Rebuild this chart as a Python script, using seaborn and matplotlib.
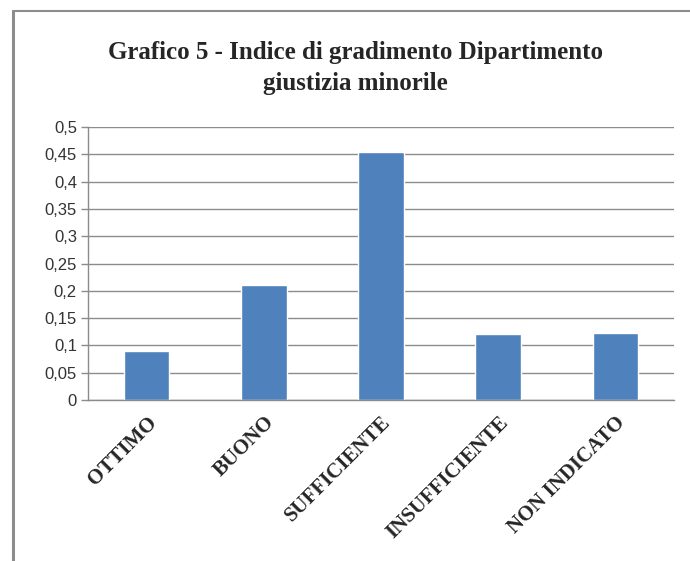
import matplotlib
matplotlib.use('Agg')
import matplotlib.pyplot as plt
import seaborn as sns
from matplotlib.lines import Line2D

# dati
CATEGORIES = ["OTTIMO", "BUONO", "SUFFICIENTE", "INSUFFICIENTE", "NON INDICATO"]
VALUES = [0.09, 0.211, 0.455, 0.12, 0.123]
Y_TICKS = [0, 0.05, 0.1, 0.15, 0.2, 0.25, 0.3, 0.35, 0.4, 0.45, 0.5]
TITLE = "Grafico 5 - Indice di gradimento Dipartimento\ngiustizia minorile"

sns.set_style("white")
plt.rcParams['font.family'] = ['Liberation Serif', 'DejaVu Serif']

fig = plt.figure(figsize=(6.9, 5.61), dpi=100)
ax = fig.add_axes([88 / 690, 1 - 400 / 561, (674 - 88) / 690, (400 - 127) / 561])

sns.barplot(x=CATEGORIES, y=VALUES, color="#4F81BD", saturation=1, width=0.39, ax=ax)

ax.set_ylim(0, 0.5)
ax.set_xlim(-0.5, len(CATEGORIES) - 0.5)
ax.set_yticks(Y_TICKS)
ax.set_yticklabels([("%g" % t).replace('.', ',') for t in Y_TICKS],
                   fontfamily='Liberation Sans', fontsize=12, color='#333333')
ax.yaxis.grid(True, color='#8c8c8c', linewidth=1)
ax.set_axisbelow(True)

# tacche tra le categorie come in Excel
ax.set_xticks([i - 0.5 for i in range(len(CATEGORIES) + 1)], minor=True)
ax.set_xticks(range(len(CATEGORIES)))
ax.set_xticklabels(CATEGORIES, rotation=45, ha='right', rotation_mode='anchor',
                   fontweight='bold', fontsize=15)
ax.tick_params(axis='x', which='major', length=0, pad=9)
ax.tick_params(axis='x', which='minor', length=5, color='#8c8c8c', width=1)
ax.tick_params(axis='y', length=5, color='#8c8c8c', width=1, left=True, pad=3)

for side in ['top', 'right']:
    ax.spines[side].set_visible(False)
for side in ['left', 'bottom']:
    ax.spines[side].set_color('#8c8c8c')
    ax.spines[side].set_linewidth(1)

fig.text(0.515, 1 - 68 / 561, TITLE, ha='center', va='center', fontsize=18,
         fontweight='bold', linespacing=1.45)

# cornice del grafico
fig.add_artist(Line2D([13 / 690, 13 / 690], [0, 1 - 11 / 561], transform=fig.transFigure,
                      color='#8c8c8c', linewidth=2.2))
fig.add_artist(Line2D([13 / 690, 1], [1 - 11 / 561, 1 - 11 / 561], transform=fig.transFigure,
                      color='#8c8c8c', linewidth=1.5))

fig.savefig('out.png', dpi=100)
